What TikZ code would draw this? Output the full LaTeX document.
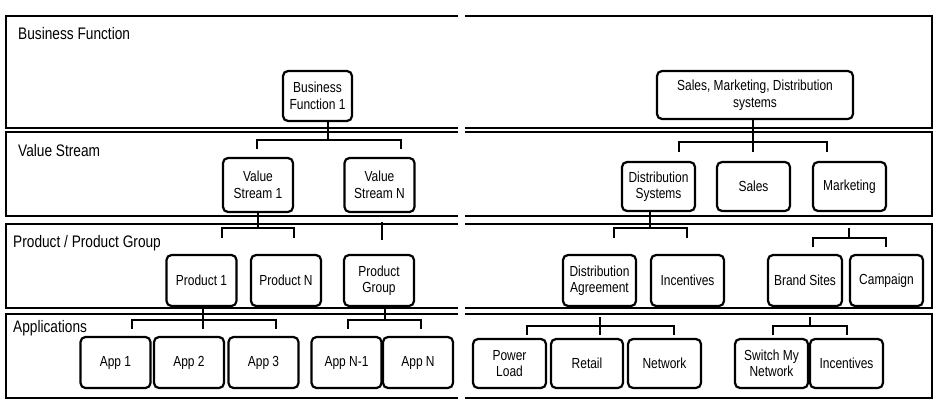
\documentclass[tikz,border=0pt]{standalone}
\usepackage{fontspec}
\setmainfont[FakeStretch=0.82]{Liberation Sans}
\newcommand\boxfont{\fontsize{14.6}{16.5}\selectfont}
\newcommand\lblfont{\fontsize{16.7}{19}\selectfont}
\begin{document}
\begin{tikzpicture}[x=1pt,y=-1pt,
  lane/.style={line width=1.3pt},
  rlane/.style={line width=1.3pt},
  box/.style={draw, line width=2.2pt, rounded corners=5pt, fill=white,
    minimum width=70pt, minimum height=51pt, align=center, inner sep=1pt, font=\boxfont},
  rbox/.style={box, minimum width=73pt, minimum height=49pt},
  conn/.style={line width=2.3pt},
  lbl/.style={anchor=base west, inner sep=0pt, font=\lblfont}]
\useasboundingbox (0,0) rectangle (938,412);

% lanes, left panel (open to the right)
\draw[lane] (458,16) -- (6,16) -- (6,128) -- (458,128);
\draw[lane] (458,132) -- (6,132) -- (6,216) -- (458,216);
\draw[lane] (458,224) -- (6,224) -- (6,308) -- (458,308);
\draw[lane] (458,314) -- (6,314) -- (6,398) -- (458,398);
% lanes, right panel (open to the left)
\draw[rlane] (465,16) -- (932,16) -- (932,128) -- (465,128);
\draw[rlane] (465,132) -- (932,132) -- (932,216) -- (465,216);
\draw[rlane] (465,224) -- (932,224) -- (932,308) -- (465,308);
\draw[rlane] (465,314) -- (932,314) -- (932,398) -- (465,398);

% lane labels
\node[lbl] (l1) at (18,40) {Business Function};
\node[lbl] (l2) at (18,157) {Value Stream};
\node[lbl] (l3) at (13,247) {Product / Product Group};
\node[lbl] (l4) at (13,332) {Applications};

% left boxes
\node[box, minimum width=69pt, minimum height=50pt] (bf1) at (317.5,96) {Business\\Function 1};
\node[box, minimum height=54pt] (vs1) at (258,185) {Value\\Stream 1};
\node[box, minimum height=54pt] (vsn) at (379.5,185) {Value\\Stream N};
\node[box] (p1) at (201.5,280.5) {Product 1};
\node[box] (pn) at (286,280.5) {Product N};
\node[box] (pg) at (379,280.5) {Product\\Group};
\node[box] (a1) at (115.5,362.5) {App 1};
\node[box] (a2) at (189,362.5) {App 2};
\node[box] (a3) at (263.5,362.5) {App 3};
\node[box] (an1) at (346.5,362.5) {App N-1};
\node[box] (an) at (418,362.5) {App N};

% right boxes
\node[box, minimum width=196pt, minimum height=48pt] (sms) at (755,95) {Sales, Marketing, Distribution\\systems};
\node[rbox] (ds) at (658.5,186.5) {Distribution\\Systems};
\node[rbox] (sales) at (753.5,186.5) {Sales};
\node[rbox] (mk) at (849.5,186.5) {Marketing};
\node[rbox, minimum height=51pt] (da) at (599.5,280.5) {Distribution\\Agreement};
\node[rbox, minimum height=51pt] (inc1) at (687.5,280.5) {Incentives};
\node[rbox, minimum height=51pt, minimum width=74pt] (bs) at (805,280.5) {Brand Sites};
\node[rbox, minimum height=51pt] (camp) at (886.5,280.5) {Campaign};
\node[rbox] (pl) at (509.5,363.5) {Power\\Load};
\node[rbox, minimum width=72pt] (ret) at (587,363.5) {Retail};
\node[rbox] (net) at (664.5,363.5) {Network};
\node[rbox] (smn) at (771.5,363.5) {Switch My\\Network};
\node[rbox] (inc2) at (846.5,363.5) {Incentives};

% bracket junctions and free ends
\coordinate (j1) at (328,140);   \coordinate (e1l) at (257,149); \coordinate (e1r) at (401,149);
\coordinate (j2) at (258,228);   \coordinate (e2l) at (222,238); \coordinate (e2r) at (294,238);
\coordinate (e3t) at (382,222);  \coordinate (e3b) at (382,240);
\coordinate (j4) at (203,320);   \coordinate (e4l) at (132,329); \coordinate (e4m) at (203,329); \coordinate (e4r) at (276,329);
\coordinate (j5) at (385,320);   \coordinate (e5l) at (348,329); \coordinate (e5r) at (421,329);
\coordinate (j6) at (753,142);   \coordinate (e6l) at (679,152); \coordinate (e6m) at (753,152); \coordinate (e6r) at (827,152);
\coordinate (j7) at (650,228);   \coordinate (e7l) at (614,238); \coordinate (e7r) at (687,238);
\coordinate (j8) at (849,238);   \coordinate (e8l) at (813,247); \coordinate (e8r) at (886,247);
\coordinate (j9) at (600,326);   \coordinate (e9l) at (527,335); \coordinate (e9m) at (600,335); \coordinate (e9r) at (674,335);
\coordinate (j10) at (810,326);  \coordinate (e10l) at (773,335); \coordinate (e10r) at (847,335);

% connectors
\draw[conn] (bf1.south -| j1) -- (j1);
\draw[conn] (e1l) -- (e1l |- j1) -- (e1r |- j1) -- (e1r);

\draw[conn] (vs1.south -| j2) -- (j2);
\draw[conn] (e2l) -- (e2l |- j2) -- (e2r |- j2) -- (e2r);

\draw[conn] (e3t) -- (e3b);

\draw[conn] (p1.south -| j4) -- (j4) -- (e4m);
\draw[conn] (e4l) -- (e4l |- j4) -- (e4r |- j4) -- (e4r);

\draw[conn] (pg.south -| j5) -- (j5);
\draw[conn] (e5l) -- (e5l |- j5) -- (e5r |- j5) -- (e5r);

\draw[conn] (sms.south -| j6) -- (j6) -- (e6m);
\draw[conn] (e6l) -- (e6l |- j6) -- (e6r |- j6) -- (e6r);

\draw[conn] (ds.south -| j7) -- (j7);
\draw[conn] (e7l) -- (e7l |- j7) -- (e7r |- j7) -- (e7r);

\draw[conn, shorten <=16pt] (mk.south -| j8) -- (j8);
\draw[conn] (e8l) -- (e8l |- j8) -- (e8r |- j8) -- (e8r);

\draw[conn, shorten <=10pt] (da.south -| j9) -- (j9) -- (e9m);
\draw[conn] (e9l) -- (e9l |- j9) -- (e9r |- j9) -- (e9r);

\draw[conn, shorten <=10pt] (bs.south -| j10) -- (j10);
\draw[conn] (e10l) -- (e10l |- j10) -- (e10r |- j10) -- (e10r);
\end{tikzpicture}
\end{document}
